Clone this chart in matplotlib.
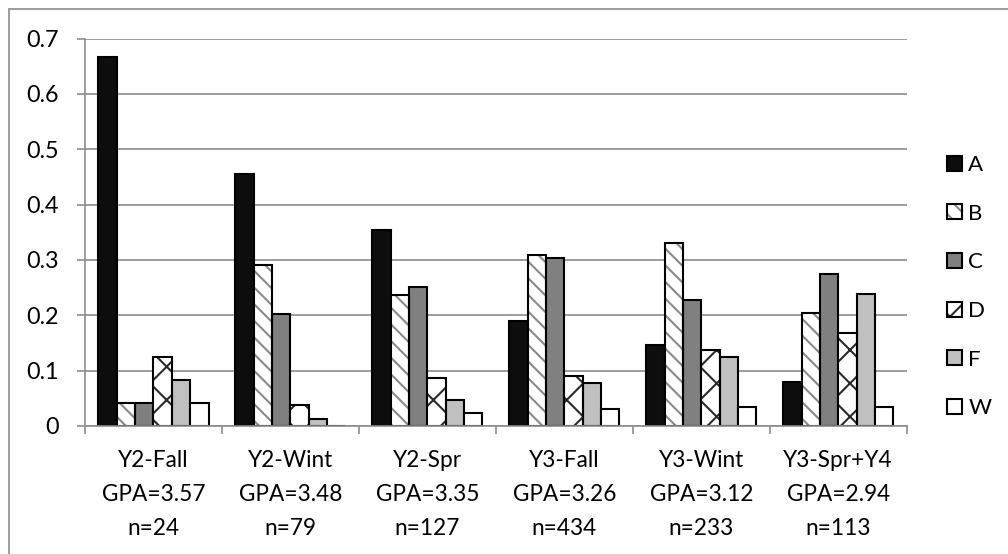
import matplotlib
matplotlib.use("Agg")
import matplotlib.pyplot as plt
import numpy as np
from matplotlib.patches import Rectangle
from matplotlib.legend_handler import HandlerTuple

# Share of students in each grade bucket, by term cohort
terms = ["Y2-Fall", "Y2-Wint", "Y2-Spr", "Y3-Fall", "Y3-Wint", "Y3-Spr+Y4"]
gpas = ["3.57", "3.48", "3.35", "3.26", "3.12", "2.94"]
counts = [24, 79, 127, 434, 233, 113]
grades = ["A", "B", "C", "D", "F", "W"]

share_A = [0.667, 0.456, 0.354, 0.189, 0.146, 0.080]
share_B = [0.042, 0.291, 0.236, 0.309, 0.330, 0.204]
share_C = [0.042, 0.203, 0.252, 0.304, 0.227, 0.274]
share_D = [0.125, 0.038, 0.087, 0.090, 0.137, 0.168]
share_F = [0.083, 0.013, 0.047, 0.078, 0.124, 0.239]
share_W = [0.042, 0.000, 0.024, 0.030, 0.034, 0.035]

yticks = [0, 0.1, 0.2, 0.3, 0.4, 0.5, 0.6, 0.7]
ytick_labels = ["0", "0.1", "0.2", "0.3", "0.4", "0.5", "0.6", "0.7"]

series = [share_A, share_B, share_C, share_D, share_F, share_W]
fills = ["#0d0d0d", "white", "#808080", "white", "#c0c0c0", "white"]
hatches = [None, "\\\\", None, "x", None, None]
hatch_colors = [None, "#8a8a8a", None, "#2a2a2a", None, None]

plt.rcParams["font.family"] = ["Lato", "DejaVu Sans"]
plt.rcParams["hatch.linewidth"] = 1.5

W, H = 1008, 554
fig = plt.figure(figsize=(W / 100, H / 100), dpi=100)
ax = fig.add_axes([85 / W, (H - 426) / H, (906.7 - 85) / W, (426 - 38.5) / H])

grid_col = "#8c8c8c"
x = np.arange(len(terms))
bw = 0.134
handles = []
for i, (vals, fc, ht, hc) in enumerate(zip(series, fills, hatches, hatch_colors)):
    pos = x + (i - 2.5) * bw
    if ht:
        hb = ax.bar(pos, vals, bw, color=fc, hatch=ht, edgecolor=hc,
                    linewidth=0, zorder=3)
        ob = ax.bar(pos, vals, bw, facecolor="none", edgecolor="black",
                    linewidth=1.5, zorder=4)
        handles.append((hb[0], ob[0]))
    else:
        ob = ax.bar(pos, vals, bw, color=fc, edgecolor="black",
                    linewidth=1.5, zorder=3)
        handles.append(ob[0])

ax.set_xlim(-0.5, len(terms) - 0.5)
ax.set_ylim(0, 0.7)
ax.set_yticks(yticks)
ax.set_yticklabels(ytick_labels)
ax.yaxis.grid(True, color=grid_col, linewidth=1.2, zorder=0)
ax.set_axisbelow(True)

ax.set_xticks(x)
ax.set_xticklabels([f"{t}\nGPA={g}\nn={n}" for t, g, n in zip(terms, gpas, counts)],
                   linespacing=1.75)
ax.set_xticks(np.arange(len(terms) + 1) - 0.5, minor=True)
ax.tick_params(axis="x", which="major", length=0, pad=17.5, labelsize=16.3)
ax.tick_params(axis="x", which="minor", length=6, width=1.2, color=grid_col,
               direction="out")
ax.tick_params(axis="y", length=6, width=1.2, color=grid_col, pad=13,
               labelsize=16.8)

for s in ["top", "right"]:
    ax.spines[s].set_visible(False)
for s in ["left", "bottom"]:
    ax.spines[s].set_color(grid_col)
    ax.spines[s].set_linewidth(1.2)
    ax.spines[s].set_zorder(5)

ax.legend(handles, grades, handler_map={tuple: HandlerTuple(ndivide=1, pad=0)},
          loc="upper left", bbox_to_anchor=(947 / W, 1 - 155 / H),
          bbox_transform=fig.transFigure, frameon=False, fontsize=16,
          handlelength=0.66, handleheight=0.66, handletextpad=0.3,
          labelspacing=1.29, borderaxespad=0, borderpad=0)

# outer chart border
fig.patches.append(Rectangle((9 / W, -0.1), 1.2, 1.1 - 9.3 / H,
                             transform=fig.transFigure, fill=False,
                             edgecolor=grid_col, linewidth=1.2))

fig.savefig("out.png", dpi=100)
